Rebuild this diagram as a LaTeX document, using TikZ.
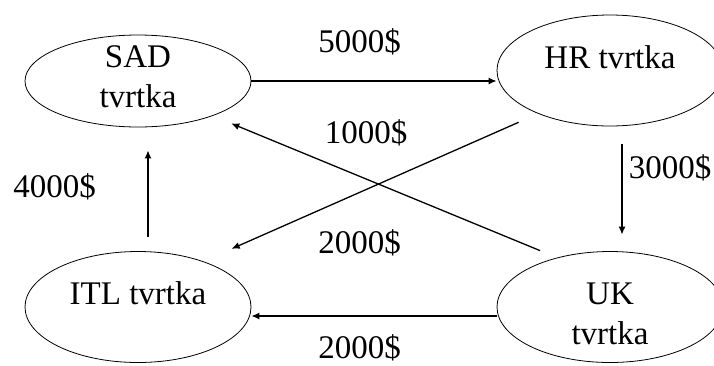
\documentclass[tikz,border=0pt]{standalone}
\usepackage{fontspec}
\setmainfont{Liberation Serif}
\usetikzlibrary{shapes.geometric, arrows.meta}

\begin{document}
\begin{tikzpicture}[x=1pt, y=-1pt]
          \tikzset{firm/.style={draw, ellipse, line width=0.8pt, minimum width=226pt, minimum height=111pt, inner sep=0pt},
                   firmtext/.style={align=center, font=\fontsize{33}{40}\selectfont},
                   amount/.style={anchor=base, inner sep=0pt, font=\fontsize{33}{40}\selectfont},
                   flow/.style={line width=1.3pt, -{Latex[length=8pt, width=7pt]}}}
          \useasboundingbox (0,0) rectangle (714,365);
          % firms
          \node[firm, minimum height=92pt, label={[firmtext, yshift=4pt]center:SAD\\tvrtka}] (sad) at (138,81) {};
          \node[firm, label={[firmtext, yshift=13.5pt]center:HR tvrtka}] (hr) at (610,70.5) {};
          \node[firm, label={[firmtext, yshift=13.5pt]center:ITL tvrtka}] (itl) at (138,307) {};
          \node[firm, label={[firmtext, yshift=-6.5pt]center:UK\\tvrtka}] (uk) at (610,307) {};
          % payments
          \draw[flow] (sad.east) -- (sad.east -| hr.west);
          \draw[flow, shorten <=18pt, shorten >=16.5pt] ([xshift=12pt]hr.south) -- ([xshift=12pt]uk.north);
          \draw[flow] ([yshift=-9pt]uk.west) -- ([yshift=-9pt]itl.east);
          \draw[flow, shorten <=14.5pt, shorten >=23pt] ([xshift=10pt]itl.north) -- ([xshift=10pt]sad.south);
          \draw[flow, shorten <=18.3pt, shorten >=20pt] (uk.137.3) -- (sad.335.6);
          \draw[flow, shorten <=21.3pt, shorten >=31pt] (hr.211) -- (itl.35.2);
          % amounts
          \node[amount] (a5000) at (359.5,52) {5000\$};
          \node[amount] (a1000) at (366,143) {1000\$};
          \node[amount] (a3000) at (670,178) {3000\$};
          \node[amount] (a4000) at (54.5,197) {4000\$};
          \node[amount] (a2000m) at (359.5,253) {2000\$};
          \node[amount] (a2000b) at (359.5,358.5) {2000\$};
        \end{tikzpicture}
\end{document}
